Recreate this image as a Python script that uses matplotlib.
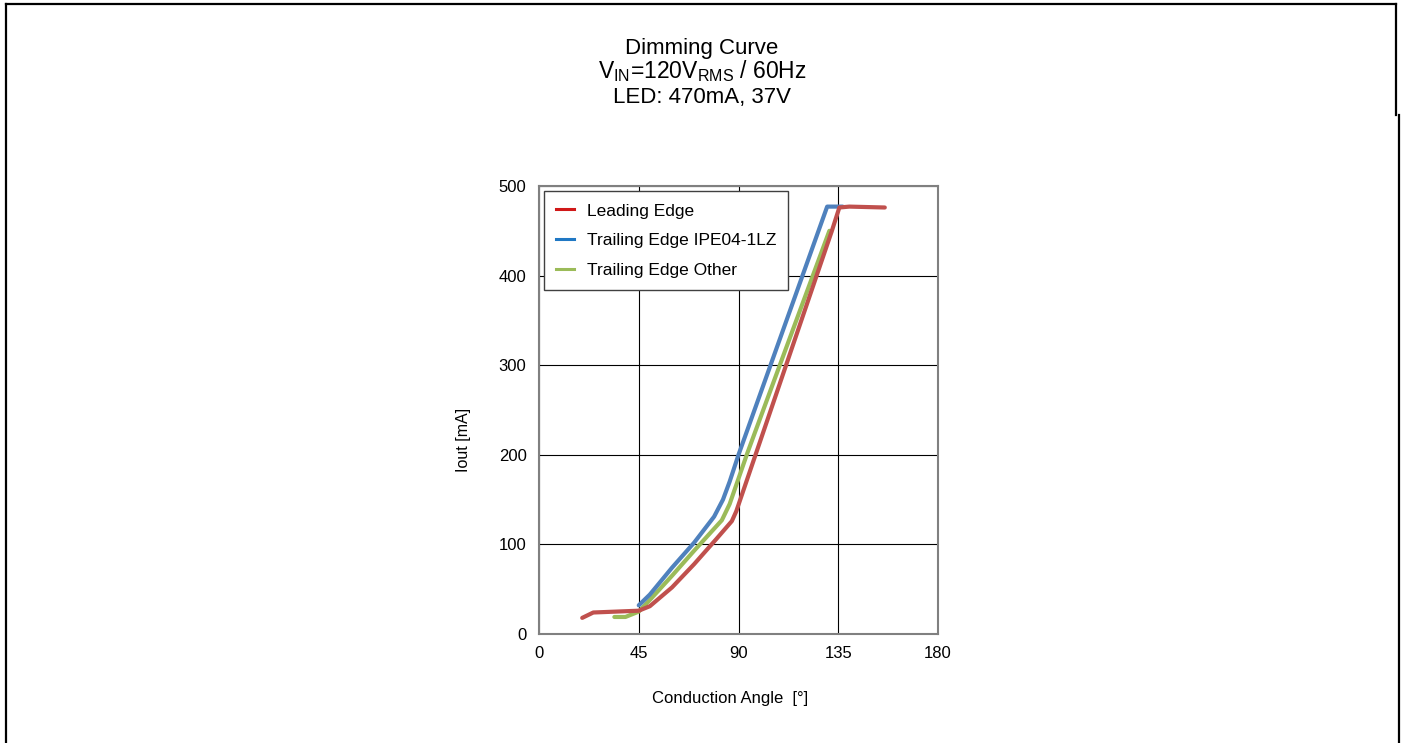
import matplotlib
matplotlib.use("Agg")
import matplotlib.pyplot as plt
from matplotlib.lines import Line2D

plt.rcParams['font.family'] = ['Liberation Sans', 'DejaVu Sans']
plt.rcParams['mathtext.fontset'] = 'custom'
plt.rcParams['mathtext.rm'] = 'Liberation Sans'

# data
lead_x = [19.5, 24.5, 45, 50, 60, 70, 80, 87, 89, 132, 135.5, 140, 156]
lead_y = [18, 24, 26, 31, 52, 78, 106, 126, 137, 449, 476, 477, 476]

blue_x = [45, 50, 60, 70, 79, 83, 86, 90, 130, 137]
blue_y = [32, 44, 74, 102, 131, 150, 170, 200, 477, 477]

green_x = [34, 39, 45, 50, 60, 70, 82.5, 86, 94, 131]
green_y = [19, 19, 25, 38, 65, 93, 127, 145, 202, 450]

labels = ["Leading Edge", "Trailing Edge IPE04-1LZ", "Trailing Edge Other"]
xticks = [0, 45, 90, 135, 180]
yticks = [0, 100, 200, 300, 400, 500]

W, H = 1401, 743
fig = plt.figure(figsize=(W / 100, H / 100), dpi=100)
ax = fig.add_axes([539 / W, 1 - 634 / H, 399 / W, 448 / H])

ax.plot(green_x, green_y, color="#9BBB59", lw=3, solid_capstyle='round')
ax.plot(blue_x, blue_y, color="#4F81BD", lw=3, solid_capstyle='round')
ax.plot(lead_x, lead_y, color="#C0504D", lw=3, solid_capstyle='round')

ax.set_xlim(0, 180)
ax.set_ylim(0, 500)
ax.set_xticks(xticks)
ax.set_yticks(yticks)
ax.tick_params(length=0, pad=9, labelsize=12)
ax.grid(True, color="black", lw=0.8)
for s in ax.spines.values():
    s.set_color("#808080")
    s.set_linewidth(1.5)

ax.set_xlabel("Conduction Angle  [°]", fontsize=12)
ax.set_ylabel("Iout [mA]", fontsize=11.5)
ax.xaxis.set_label_coords(0.479, -0.127)
ax.yaxis.set_label_coords(-0.170, 0.433)

handles = [Line2D([], [], color="#D01818", lw=2.2),
           Line2D([], [], color="#2078C4", lw=2.2),
           Line2D([], [], color="#9BBB59", lw=2.2)]
leg = ax.legend(handles, labels, loc="upper left", fontsize=12.5,
                fancybox=False, framealpha=1, edgecolor="#404040",
                borderaxespad=0.3, borderpad=0.7, handlelength=1.0,
                handletextpad=0.75, labelspacing=0.85)
leg.get_frame().set_linewidth(1.0)

# title lines
cx = 702 / W
fig.text(cx, 1 - 54 / H, "Dimming Curve", ha="center", va="baseline", fontsize=16)
fig.text(cx, 1 - 78.5 / H, r"V$_{\mathregular{IN}}$=120V$_{\mathregular{RMS}}$ / 60Hz",
         ha="center", va="baseline", fontsize=16.5)
fig.text(cx, 1 - 103.5 / H, "LED: 470mA, 37V", ha="center", va="baseline", fontsize=16)

# outer frame
def fline(xs, ys):
    fig.add_artist(Line2D([x / W for x in xs], [1 - y / H for y in ys],
                          color="black", lw=1.6, transform=fig.transFigure))

fline([6, 1396], [4, 4])
fline([6, 6], [4, 743])
fline([1396, 1396], [4, 115])
fline([1398.5, 1398.5], [115, 743])

fig.savefig("out.png", dpi=100)
